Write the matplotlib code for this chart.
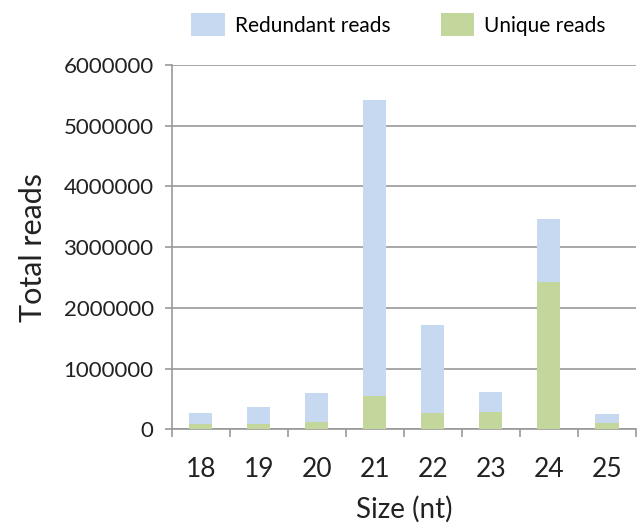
import matplotlib.pyplot as plt
import numpy as np

sizes = ['18', '19', '20', '21', '22', '23', '24', '25']
unique_reads = [80000, 90000, 125000, 555000, 275000, 290000, 2420000, 110000]
total_reads = [265000, 372000, 593000, 5425000, 1720000, 610000, 3470000, 252000]
redundant_reads = [t - u for t, u in zip(total_reads, unique_reads)]

plt.rcParams['font.family'] = ['Lato', 'DejaVu Sans']

fig = plt.figure(figsize=(6.43, 5.28), dpi=100)
ax = fig.add_axes([0.267, 0.187, 0.722, 0.690])

x = np.arange(len(sizes))
green = '#c3d69b'
blue = '#c6d9f1'
b1 = ax.bar(x, unique_reads, width=0.4, color=green, zorder=3, label='Unique reads')
b2 = ax.bar(x, redundant_reads, width=0.4, bottom=unique_reads, color=blue, zorder=3,
            label='Redundant reads')

ax.set_ylim(0, 6000000)
ax.set_xlim(-0.5, len(sizes) - 0.5)
ax.set_yticks(np.arange(0, 6000001, 1000000))
ax.set_yticklabels([str(v) for v in range(0, 6000001, 1000000)], fontsize=16, color='#222222')
ax.yaxis.grid(True, color='#999999', linewidth=1.2, zorder=0)

ax.set_xticks(x)
ax.set_xticklabels(sizes, fontsize=19, color='#222222')
ax.set_xticks(np.arange(-0.5, len(sizes)), minor=True)
ax.tick_params(axis='x', which='major', length=0, pad=20)
ax.tick_params(axis='x', which='minor', length=6, color='#999999', width=1.2)
ax.tick_params(axis='y', length=5, color='#999999', width=1.2, pad=8)

for s in ['top', 'right']:
    ax.spines[s].set_visible(False)
for s in ['left', 'bottom']:
    ax.spines[s].set_color('#999999')
    ax.spines[s].set_linewidth(1.2)

ax.set_ylabel('Total reads', fontsize=22, color='#222222', labelpad=12)
ax.set_xlabel('Size (nt)', fontsize=20, color='#222222', labelpad=10)

fig.legend(handles=[b2, b1], loc='upper center', bbox_to_anchor=(0.62, 1.01), ncol=2,
           frameon=False, fontsize=15, handlelength=1.6, handleheight=1.3,
           columnspacing=2.4, handletextpad=0.5)

fig.savefig('out.png', dpi=100)
